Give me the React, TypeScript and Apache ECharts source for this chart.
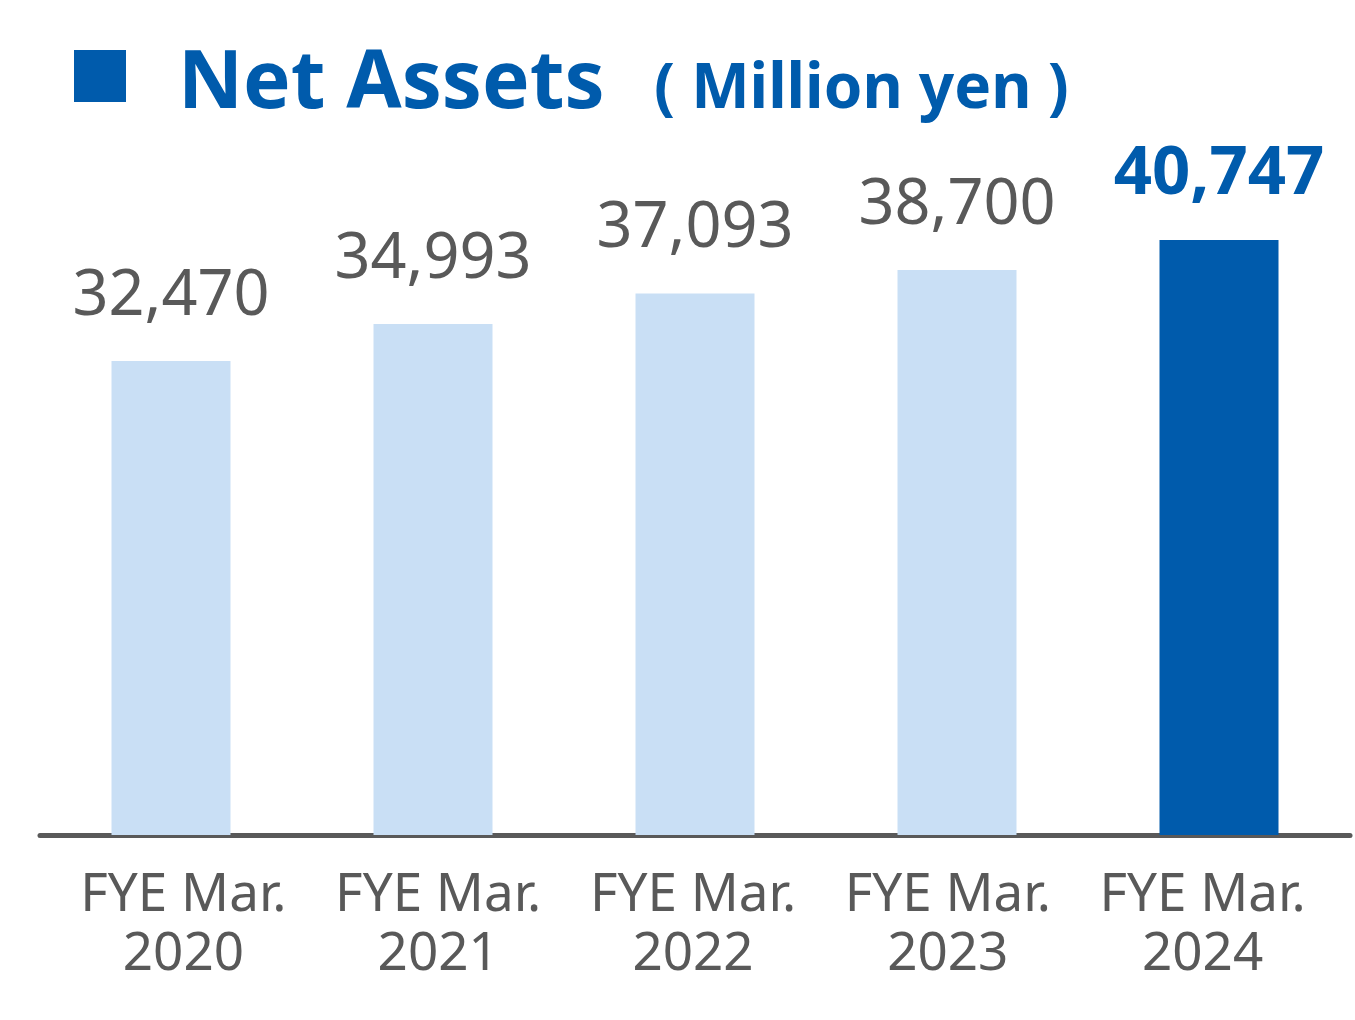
import React, { useEffect, useRef } from "react";
import * as echarts from "echarts";

const years = ["2020", "2021", "2022", "2023", "2024"];
const periodPrefix = "FYE Mar.";
const values = [32470, 34993, 37093, 38700, 40747];
const highlightIndex = 4;
const titleMain = "Net Assets";
const titleUnit = "( Million yen )";

const BLUE = "#005BAC";
const LIGHT = "#C9DFF5";
const GRAY = "#595959";
const FONT = "'Noto Sans', 'Open Sans', sans-serif";

export default function App() {
  const ref = useRef<HTMLDivElement>(null);
  useEffect(() => {
    document.body.style.margin = "0";
    const chart = echarts.init(ref.current!, null, { renderer: "svg" });
    const fmt = (v: number) => v.toLocaleString("en-US");
    const labelAxisBase = {
      type: "category",
      gridIndex: 1,
      data: years,
      position: "bottom",
      axisLine: { show: false },
      axisTick: { show: false },
    };
    const labelStyle = {
      show: true,
      color: GRAY,
      fontFamily: FONT,
      fontSize: 53,
      lineHeight: 59,
      margin: 26,
      interval: 0,
    };
    chart.setOption({
      animation: false,
      backgroundColor: "#ffffff",
      graphic: [
        { type: "rect", shape: { x: 74, y: 50, width: 52, height: 52 }, style: { fill: BLUE } },
        {
          type: "text",
          x: 178,
          y: 76,
          style: { text: titleMain, fill: BLUE, font: `bold 80px ${FONT}`, verticalAlign: "middle", align: "left" },
        },
        {
          type: "text",
          x: 654,
          y: 84,
          style: { text: titleUnit, fill: BLUE, font: `bold 62px ${FONT}`, verticalAlign: "middle", align: "left" },
        },
      ],
      grid: [
        { left: 40, right: 5, top: 178, bottom: 185 },
        { left: 56, right: 25, top: 178, bottom: 185 },
      ],
      xAxis: [
        {
          type: "category",
          gridIndex: 0,
          data: years,
          offset: 2.5,
          axisLine: { show: true, lineStyle: { color: GRAY, width: 5 } },
          axisTick: { show: false },
          axisLabel: { show: false },
        },
        {
          ...labelAxisBase,
          axisLabel: { ...labelStyle, formatter: () => periodPrefix },
        },
        {
          ...labelAxisBase,
          offset: 59,
          axisLabel: { ...labelStyle },
        },
      ],
      yAxis: [
        { type: "value", gridIndex: 0, min: 0, max: 45000, show: false },
        { type: "value", gridIndex: 1, min: 0, max: 45000, show: false },
      ],
      series: [
        {
          type: "bar",
          xAxisIndex: 0,
          yAxisIndex: 0,
          barWidth: 119,
          data: values.map((v, i) => ({
            value: v,
            itemStyle: { color: i === highlightIndex ? BLUE : LIGHT },
            label: i === highlightIndex
              ? { color: BLUE, fontWeight: "bold", fontSize: 67 }
              : { color: GRAY, fontWeight: "normal", fontSize: 63 },
          })),
          label: {
            show: true,
            position: "top",
            distance: 39,
            fontFamily: FONT,
            formatter: (p: any) => fmt(p.value),
          },
        },
      ],
    });
    return () => chart.dispose();
  }, []);
  return <div ref={ref} style={{ width: 1355, height: 1020 }} />;
}
